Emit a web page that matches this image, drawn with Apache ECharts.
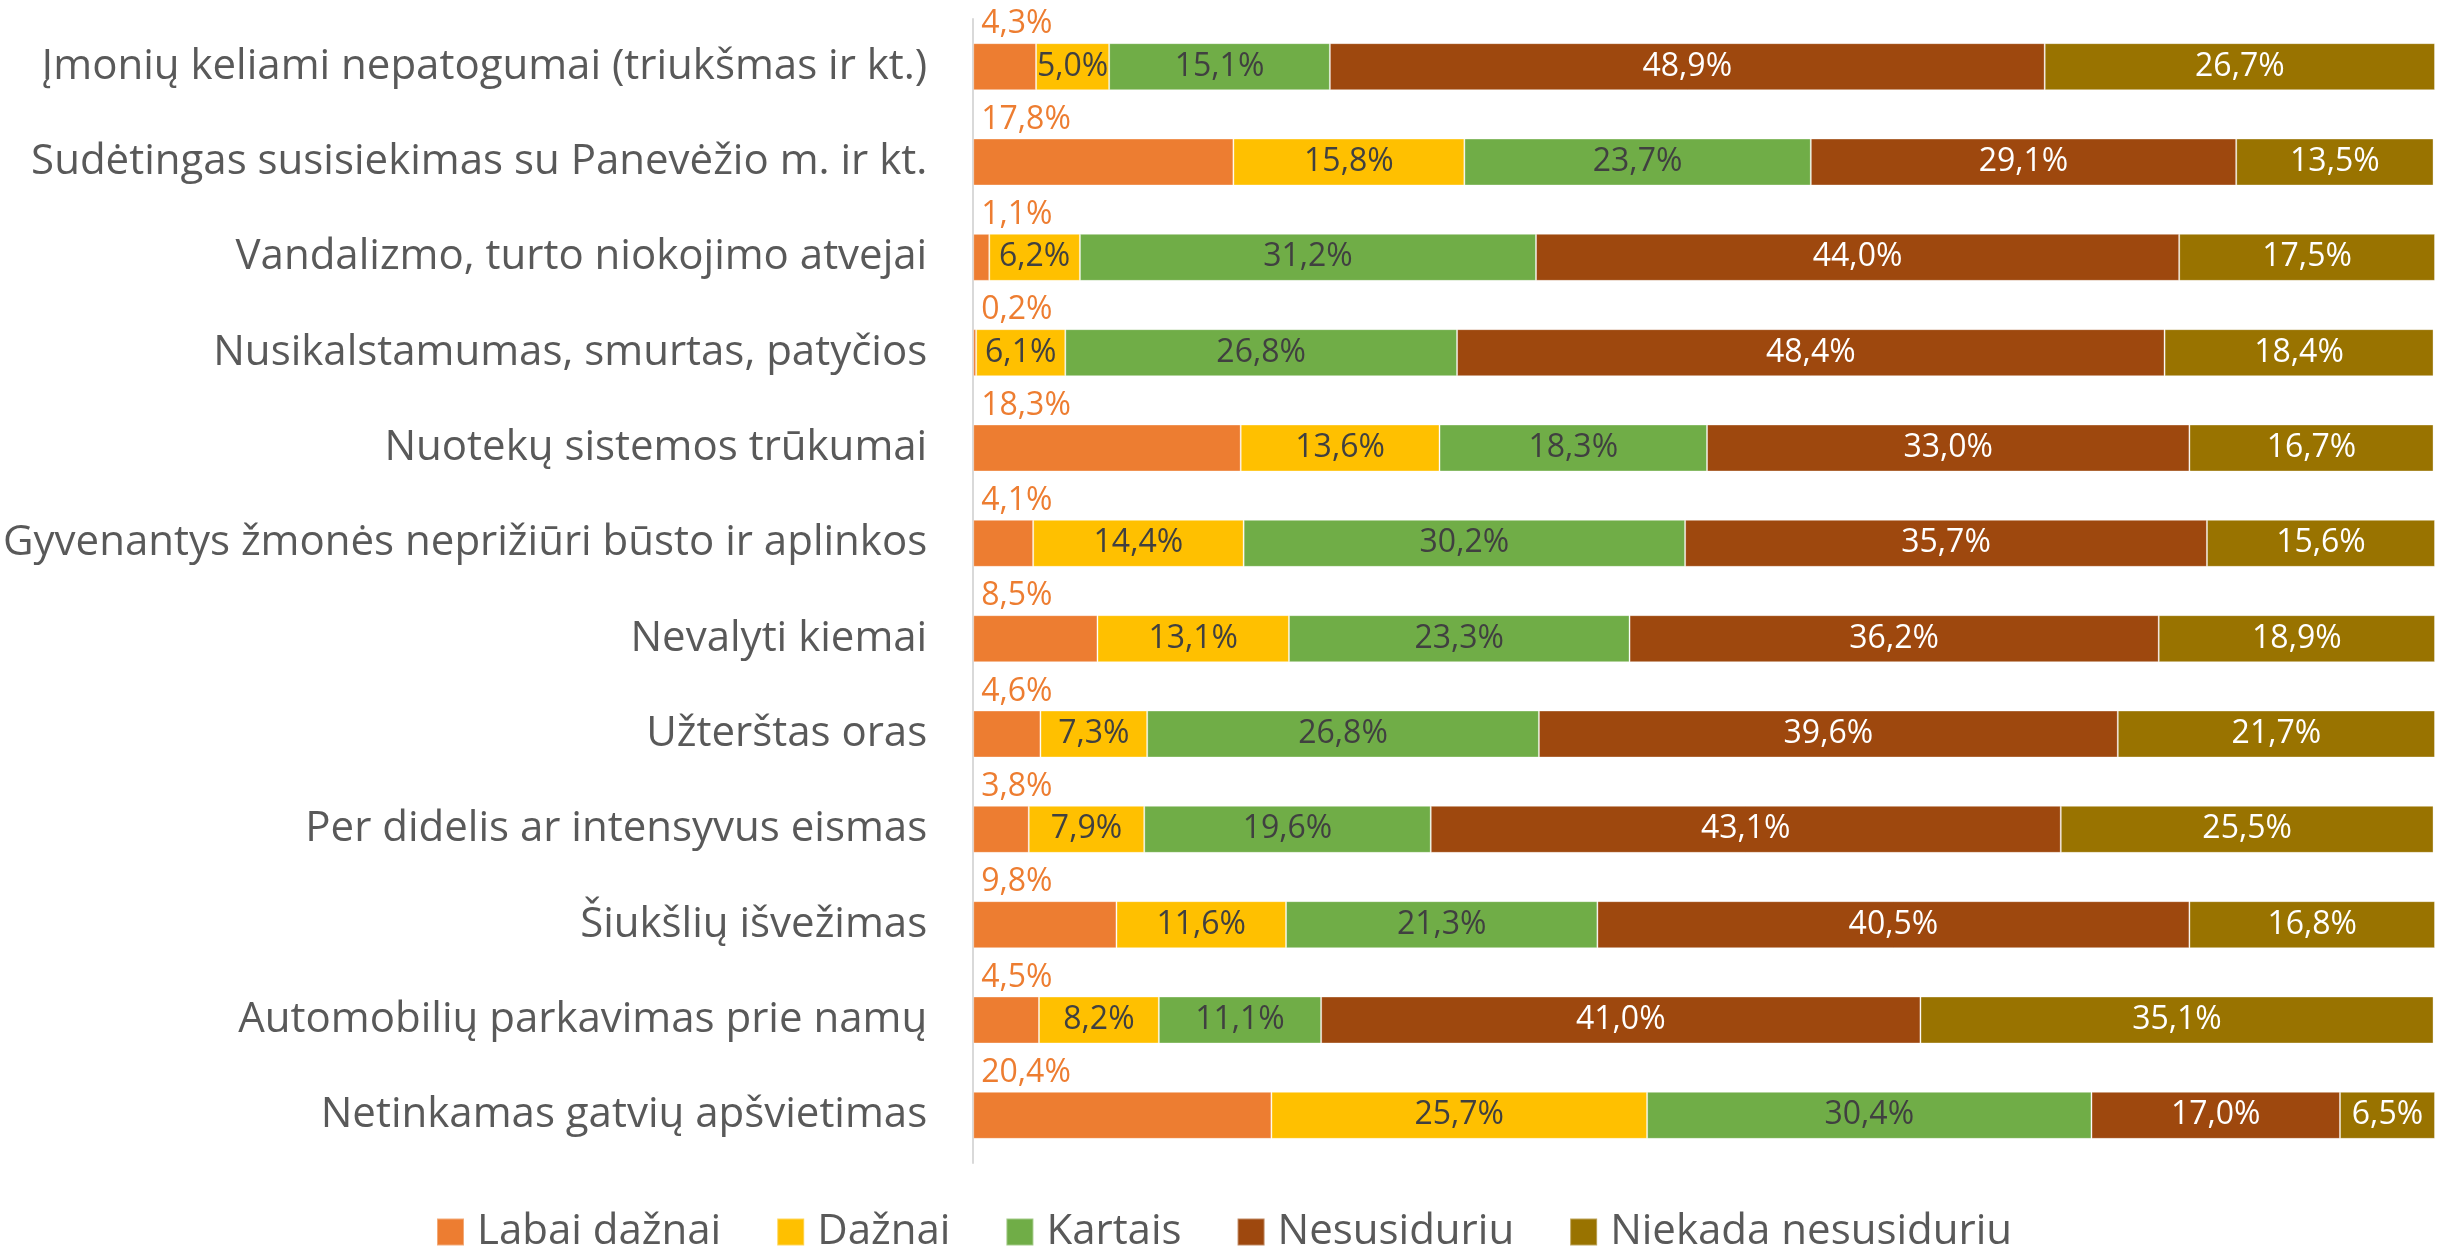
<!DOCTYPE html>
<html>
<head>
<meta charset="utf-8">
<script src="https://cdn.jsdelivr.net/npm/echarts@6/dist/echarts.min.js"></script>
<style>
  html, body { margin: 0; padding: 0; background: #fff; }
  #main { width: 2448px; height: 1246px; }
</style>
</head>
<body>
<div id="main"></div>
<script>
// kategorijos, iš viršaus į apačią
var categories = [
  'Įmonių keliami nepatogumai (triukšmas ir kt.)',
  'Sudėtingas susisiekimas su Panevėžio m. ir kt.',
  'Vandalizmo, turto niokojimo atvejai',
  'Nusikalstamumas, smurtas, patyčios',
  'Nuotekų sistemos trūkumai',
  'Gyvenantys žmonės neprižiūri būsto ir aplinkos',
  'Nevalyti kiemai',
  'Užterštas oras',
  'Per didelis ar intensyvus eismas',
  'Šiukšlių išvežimas',
  'Automobilių parkavimas prie namų',
  'Netinkamas gatvių apšvietimas'
];
var seriesNames = ['Labai dažnai', 'Dažnai', 'Kartais', 'Nesusiduriu', 'Niekada nesusiduriu'];
var labaiDaznai = [4.3, 17.8, 1.1, 0.2, 18.3, 4.1, 8.5, 4.6, 3.8, 9.8, 4.5, 20.4];
var daznai      = [5.0, 15.8, 6.2, 6.1, 13.6, 14.4, 13.1, 7.3, 7.9, 11.6, 8.2, 25.7];
var kartais     = [15.1, 23.7, 31.2, 26.8, 18.3, 30.2, 23.3, 26.8, 19.6, 21.3, 11.1, 30.4];
var nesusiduriu = [48.9, 29.1, 44.0, 48.4, 33.0, 35.7, 36.2, 39.6, 43.1, 40.5, 41.0, 17.0];
var niekada     = [26.7, 13.5, 17.5, 18.4, 16.7, 15.6, 18.9, 21.7, 25.5, 16.8, 35.1, 6.5];

var values = [labaiDaznai, daznai, kartais, nesusiduriu, niekada];
var colors = ['#ED7D31', '#FFC000', '#70AD47', '#9E480E', '#997300'];
var labelColors = ['#ED7D31', '#404040', '#404040', '#ffffff', '#ffffff'];
var font = '"Open Sans", "Noto Sans", sans-serif';

function fmt(p) {
  return p.value.toFixed(1).replace('.', ',') + '%';
}

var series = values.map(function (data, i) {
  var label = {
    show: true,
    formatter: fmt,
    color: labelColors[i],
    fontFamily: font,
    fontSize: 32
  };
  if (i === 0) {
    // pirmos serijos reikšmės rašomos virš stulpelio
    label.position = [8, -19];
    label.align = 'left';
    label.verticalAlign = 'middle';
  } else {
    label.position = 'inside';
  }
  return {
    name: seriesNames[i],
    type: 'bar',
    stack: 'total',
    barWidth: 47,
    data: data,
    itemStyle: {
      color: colors[i],
      borderColor: 'rgba(255,255,255,0.35)',
      borderWidth: 1
    },
    label: label,
    emphasis: { disabled: true }
  };
});

var chart = echarts.init(document.getElementById('main'));
chart.setOption({
  animation: false,
  color: colors,
  grid: {
    left: 970,
    right: 13,
    top: 19,
    bottom: 83,
    containLabel: false
  },
  legend: {
    top: 1206,
    left: 'center',
    itemWidth: 27,
    itemHeight: 27,
    itemGap: 55,
    icon: 'rect',
    textStyle: {
      color: '#595959',
      fontFamily: font,
      fontSize: 42,
      padding: [0, 0, 0, 8]
    },
    data: seriesNames
  },
  xAxis: {
    type: 'value',
    min: 0,
    max: 100,
    show: false
  },
  yAxis: {
    type: 'category',
    inverse: true,
    data: categories,
    axisLine: { show: true, lineStyle: { color: '#D9D9D9', width: 2 } },
    axisTick: { show: false },
    axisLabel: {
      color: '#595959',
      fontFamily: font,
      fontSize: 42,
      margin: 46
    }
  },
  series: series
});
</script>
</body>
</html>
